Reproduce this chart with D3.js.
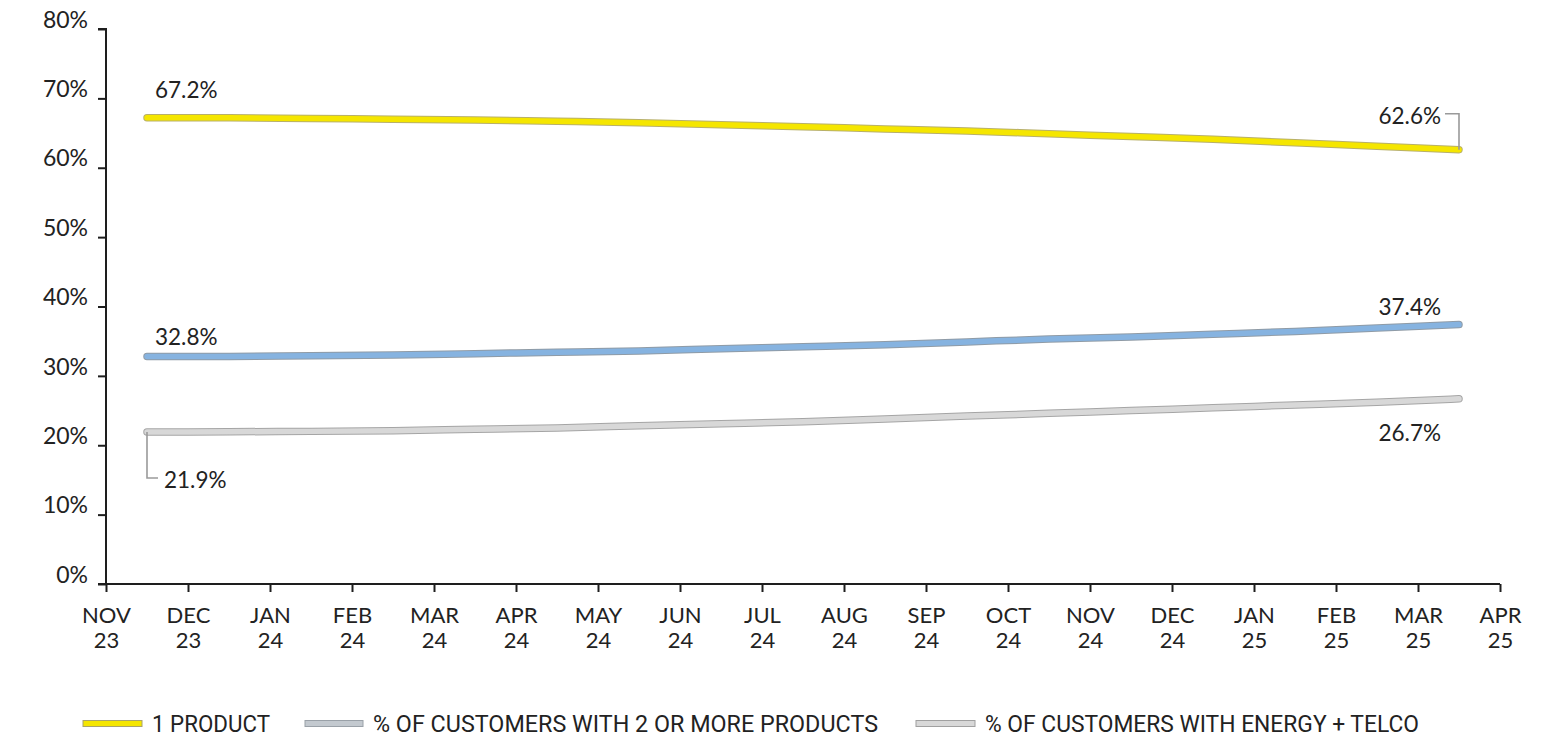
<!DOCTYPE html>
<html>
<head>
<meta charset="utf-8">
<script src="https://cdn.jsdelivr.net/npm/d3@7"></script>
<style>
  html, body { margin: 0; padding: 0; background: #fff; }
  svg { display: block; }
  text { font-family: Lato, "Open Sans", sans-serif; fill: #222; }
</style>
</head>
<body>
<svg id="chart" width="1558" height="741"></svg>
<script>
// Month boundaries shown on the x axis (two-line labels)
const tickMonths = ["NOV", "DEC", "JAN", "FEB", "MAR", "APR", "MAY", "JUN", "JUL", "AUG", "SEP", "OCT", "NOV", "DEC", "JAN", "FEB", "MAR", "APR"];
const tickYears  = ["23", "23", "24", "24", "24", "24", "24", "24", "24", "24", "24", "24", "24", "24", "25", "25", "25", "25"];
const yTicks = [0, 10, 20, 30, 40, 50, 60, 70, 80];

// Monthly shares (%), one value per month between consecutive boundaries
const oneProduct = [67.2, 67.2, 67.1, 67.0, 66.9, 66.7, 66.5, 66.2, 65.9, 65.6, 65.3, 64.9, 64.5, 64.1, 63.6, 63.1, 62.6];
const twoOrMore  = [32.8, 32.8, 32.9, 33.0, 33.2, 33.4, 33.6, 33.9, 34.2, 34.5, 34.9, 35.3, 35.6, 36.0, 36.4, 36.9, 37.4];
const energyTelco = [21.9, 21.95, 22.0, 22.1, 22.3, 22.5, 22.8, 23.1, 23.4, 23.8, 24.2, 24.6, 25.0, 25.4, 25.8, 26.2, 26.7];

const seriesNames = ["1 PRODUCT", "% OF CUSTOMERS WITH 2 OR MORE PRODUCTS", "% OF CUSTOMERS WITH ENERGY + TELCO"];

const svg = d3.select("#chart");
const x = d3.scaleLinear().domain([0, tickMonths.length - 1]).range([106, 1500]);
const y = d3.scaleLinear().domain([0, 80]).range([584, 29]);

// Axes
const yAxis = svg.append("g").attr("transform", `translate(${x(0)},0)`)
  .call(d3.axisLeft(y).tickValues(yTicks).tickSize(8).tickFormat(d => d + "%"));
yAxis.select(".domain").attr("d", `M-8,${y(80)}H0V${y(0)}`);
const xAxis = svg.append("g").attr("transform", `translate(0,${y(0)})`)
  .call(d3.axisBottom(x).tickValues(d3.range(tickMonths.length)).tickSize(8).tickFormat(""));
xAxis.select(".domain").attr("d", `M${x(0) - 8},0H${x(tickMonths.length - 1)}`);
svg.selectAll(".domain, .tick line").attr("stroke", "#1e1e1e").attr("stroke-width", 2);
yAxis.selectAll(".tick text").attr("x", -18).attr("dy", "-0.08em")
  .style("font-size", "23px").style("font-family", "Lato, sans-serif").attr("fill", "#222");

// Two-line month labels
const xl = xAxis.selectAll(".tick").append("text").attr("text-anchor", "middle")
  .style("font-size", "22px").attr("fill", "#222");
xl.append("tspan").attr("x", 0).attr("y", 39).text((d, i) => tickMonths[i]);
xl.append("tspan").attr("x", 0).attr("y", 64).text((d, i) => tickYears[i]);

// Lines
const line = d3.line().x((d, i) => x(i + 0.5)).y(d => y(d)).curve(d3.curveMonotoneX);
const series = [
  { values: oneProduct, fill: "#f5e600", edge: "#b8b06a" },
  { values: twoOrMore, fill: "#86b3e0", edge: "#8f9ba6" },
  { values: energyTelco, fill: "#d8d8d8", edge: "#a5a5a5" }
];
series.slice().reverse().forEach(s => {
  svg.append("path").attr("d", line(s.values)).attr("fill", "none")
    .attr("stroke", s.edge).attr("stroke-width", 7.5).attr("stroke-linecap", "round");
  svg.append("path").attr("d", line(s.values)).attr("fill", "none")
    .attr("stroke", s.fill).attr("stroke-width", 5.5).attr("stroke-linecap", "round");
});

// Value labels at both ends
const last = oneProduct.length - 1;
const xs = x(0.5), xe = x(last + 0.5);
const lbl = (tx, ty, anchor, text) => svg.append("text").attr("x", tx).attr("y", ty)
  .attr("text-anchor", anchor).style("font-size", "22.5px").text(text);

lbl(155, y(oneProduct[0]) - 20, "start", oneProduct[0].toFixed(1) + "%");
lbl(1441, y(oneProduct[last]) - 26, "end", oneProduct[last].toFixed(1) + "%");
lbl(155, y(twoOrMore[0]) - 11, "start", twoOrMore[0].toFixed(1) + "%");
lbl(1441, y(twoOrMore[last]) - 10, "end", twoOrMore[last].toFixed(1) + "%");
lbl(164, y(energyTelco[0]) + 56, "start", energyTelco[0].toFixed(1) + "%");
lbl(1441, y(energyTelco[last]) + 42, "end", energyTelco[last].toFixed(1) + "%");

// Leader lines
const leader = "#9a9a9a";
svg.append("path").attr("fill", "none").attr("stroke", leader).attr("stroke-width", 1.6)
  .attr("d", `M${xe - 14},${y(oneProduct[last]) - 36}H${xe}V${y(oneProduct[last])}`);
svg.append("path").attr("fill", "none").attr("stroke", leader).attr("stroke-width", 1.6)
  .attr("d", `M${xs},${y(energyTelco[0])}V${y(energyTelco[0]) + 46}H${xs + 11}`);

// Legend
const legendItems = [
  { x: 83, w: 59, tw: 118, fill: "#f5e600", edge: "#a9a36a", name: seriesNames[0] },
  { x: 305, w: 58, tw: 505, fill: "#c3c9cf", edge: "#9aa1a8", name: seriesNames[1] },
  { x: 916, w: 59, tw: 434, fill: "#d8d8d8", edge: "#a0a0a0", name: seriesNames[2] }
];
const lg = svg.append("g");
legendItems.forEach(it => {
  lg.append("rect").attr("x", it.x).attr("y", 720.5).attr("width", it.w).attr("height", 6)
    .attr("fill", it.fill).attr("stroke", it.edge).attr("stroke-width", 1);
  lg.append("text").attr("x", it.x + it.w + 10).attr("y", 732)
    .attr("textLength", it.tw).attr("lengthAdjust", "spacingAndGlyphs")
    .style("font-size", "23px").style("font-family", "Roboto, sans-serif").text(it.name);
});
</script>
</body>
</html>
